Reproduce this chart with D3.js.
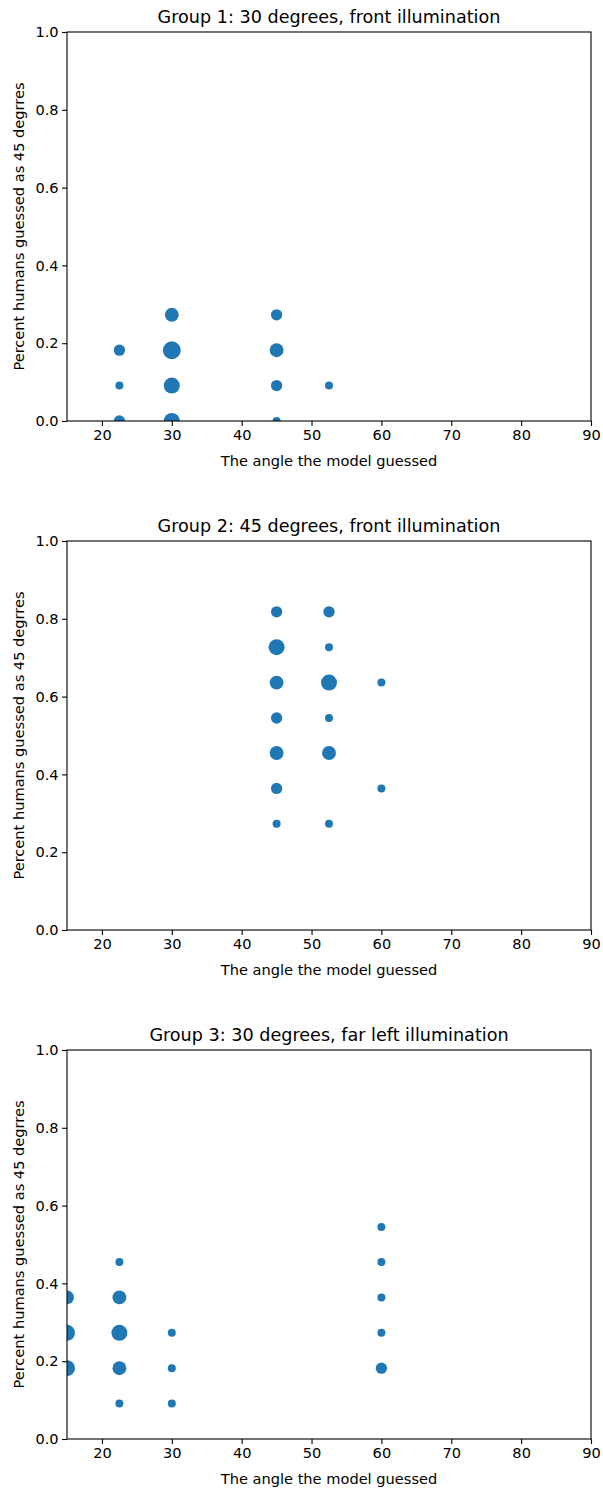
<!DOCTYPE html>
<html>
<head>
<meta charset="utf-8">
<script src="https://cdn.jsdelivr.net/npm/d3@7"></script>
<style>
  body { margin: 0; background: #fff; }
  svg { display: block; }
  text { font-family: "DejaVu Sans", sans-serif; fill: #000; }
</style>
</head>
<body>
<div id="chart"></div>
<script>
// 每组数据：x = 模型猜测角度, y = 人类猜测为45度的比例, n = 点数（决定大小）
const titles = [
  "Group 1: 30 degrees, front illumination",
  "Group 2: 45 degrees, front illumination",
  "Group 3: 30 degrees, far left illumination"
];

const g1X = [22.5, 22.5, 22.5, 30, 30, 30, 30, 45, 45, 45, 45, 52.5];
const g1Y = [0.182, 0.091, 0, 0.273, 0.182, 0.091, 0, 0.273, 0.182, 0.091, 0, 0.091];
const g1N = [2, 1, 2, 3, 5, 4, 4, 2, 3, 2, 1, 1];

const g2X = [45, 45, 45, 45, 45, 45, 45, 52.5, 52.5, 52.5, 52.5, 52.5, 52.5, 60, 60];
const g2Y = [0.818, 0.727, 0.636, 0.545, 0.455, 0.364, 0.273, 0.818, 0.727, 0.636, 0.545, 0.455, 0.273, 0.636, 0.364];
const g2N = [2, 4, 3, 2, 3, 2, 1, 2, 1, 4, 1, 3, 1, 1, 1];

const g3X = [15, 15, 15, 22.5, 22.5, 22.5, 22.5, 22.5, 30, 30, 30, 60, 60, 60, 60, 60];
const g3Y = [0.364, 0.273, 0.182, 0.455, 0.364, 0.273, 0.182, 0.091, 0.273, 0.182, 0.091, 0.545, 0.455, 0.364, 0.273, 0.182];
const g3N = [3, 4, 4, 1, 3, 4, 3, 1, 1, 1, 1, 1, 1, 1, 1, 2];

const xTicks = [20, 30, 40, 50, 60, 70, 80, 90];
const yTicks = [0, 0.2, 0.4, 0.6, 0.8, 1.0];

const groups = [
  { x: g1X, y: g1Y, n: g1N },
  { x: g2X, y: g2Y, n: g2N },
  { x: g3X, y: g3Y, n: g3N }
];

const width = 603, height = 1490;
const left = 67, right = 591;
const panelTops = [32, 541, 1050];
const panelH = 389;
const labelSize = '14.6px';

const svg = d3.select('#chart').append('svg')
  .attr('width', width)
  .attr('height', height);

const xScale = d3.scaleLinear().domain([15, 90]).range([left, right]);
const rScale = d3.scaleSqrt().domain([0, 1]).range([0, 4]);

groups.forEach((g, i) => {
  const top = panelTops[i];
  const bottom = top + panelH;
  const yScale = d3.scaleLinear().domain([0, 1]).range([bottom, top]);

  const panel = svg.append('g').attr('class', 'panel');

  // 裁剪区域，和 matplotlib 一样把超出坐标区的点剪掉
  panel.append('clipPath')
    .attr('id', `clip-${i}`)
    .append('rect')
    .attr('x', left)
    .attr('y', top)
    .attr('width', right - left)
    .attr('height', panelH);

  const pts = g.x.map((x, k) => ({ x, y: g.y[k], n: g.n[k] }));

  panel.append('g')
    .attr('clip-path', `url(#clip-${i})`)
    .selectAll('circle')
    .data(pts)
    .enter()
    .append('circle')
    .attr('cx', d => xScale(d.x))
    .attr('cy', d => yScale(d.y))
    .attr('r', d => rScale(d.n))
    .attr('fill', '#1f77b4');

  // 坐标轴
  const xAxis = d3.axisBottom(xScale).tickValues(xTicks).tickSize(4.9).tickPadding(3.5).tickFormat(d3.format('d'));
  const yAxis = d3.axisLeft(yScale).tickValues(yTicks).tickSize(4.9).tickPadding(3.5).tickFormat(d3.format('.1f'));

  const gx = panel.append('g')
    .attr('transform', `translate(0,${bottom})`)
    .call(xAxis);
  const gy = panel.append('g')
    .attr('transform', `translate(${left},0)`)
    .call(yAxis);

  [gx, gy].forEach(a => {
    a.select('.domain').remove();
    a.selectAll('line').attr('stroke', '#000').attr('stroke-width', 1.1);
    a.selectAll('text').style('font-size', labelSize).attr('fill', '#000');
  });

  // 边框
  panel.append('rect')
    .attr('x', left)
    .attr('y', top)
    .attr('width', right - left)
    .attr('height', panelH)
    .attr('fill', 'none')
    .attr('stroke', '#000')
    .attr('stroke-width', 1.1);

  panel.append('text')
    .attr('x', (left + right) / 2)
    .attr('y', top - 9)
    .attr('text-anchor', 'middle')
    .style('font-size', '17.6px')
    .text(titles[i]);

  panel.append('text')
    .attr('x', (left + right) / 2)
    .attr('y', bottom + 45)
    .attr('text-anchor', 'middle')
    .style('font-size', labelSize)
    .text('The angle the model guessed');

  panel.append('text')
    .attr('transform', `translate(24,${(top + bottom) / 2}) rotate(-90)`)
    .attr('text-anchor', 'middle')
    .style('font-size', labelSize)
    .text('Percent humans guessed as 45 degrres');
});
</script>
</body>
</html>
